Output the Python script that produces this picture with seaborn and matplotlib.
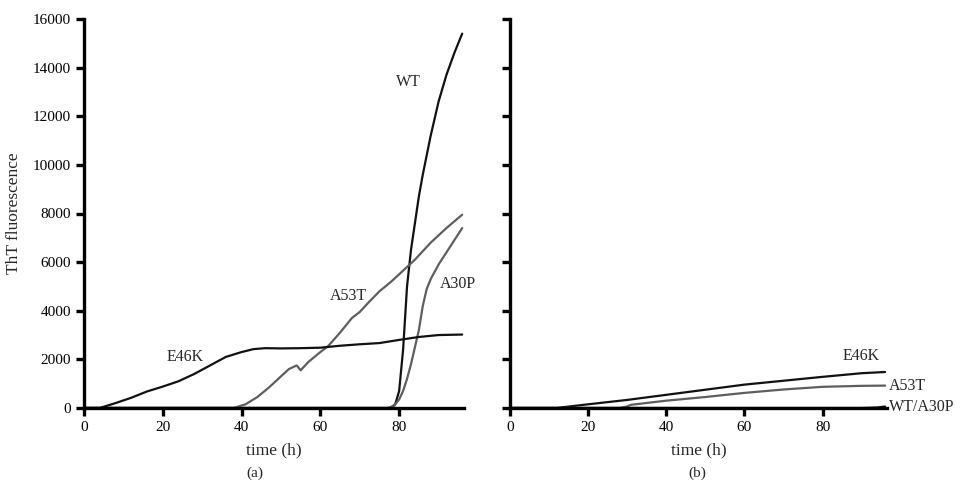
import pandas as pd
import matplotlib
matplotlib.use("Agg")
import matplotlib.pyplot as plt
import seaborn as sns

# ---- panel (a) data ----
a_wt_time = [0, 78, 79, 80, 81, 82, 83, 84, 85, 86, 88, 90, 92, 94, 96]
a_wt_val = [0, 0, 150, 700, 2400, 5000, 6500, 7600, 8700, 9600, 11200, 12600, 13700, 14600, 15400]

a_a30p_time = [0, 77, 78, 79, 80, 81, 82, 83, 84, 85, 86, 87, 88, 90, 92, 94, 96]
a_a30p_val = [0, 0, 50, 150, 350, 700, 1200, 1800, 2500, 3200, 4200, 4900, 5300, 5900, 6400, 6900, 7400]

a_a53t_time = [0, 38, 41, 44, 47, 50, 52, 54, 55, 57, 60, 62, 65, 68, 70, 72, 75, 78, 80, 84, 88, 92, 96]
a_a53t_val = [0, 0, 150, 450, 850, 1300, 1600, 1750, 1550, 1900, 2300, 2550, 3100, 3700, 3950, 4300,
              4800, 5200, 5500, 6100, 6800, 7400, 7950]

a_e46k_time = [0, 4, 8, 12, 16, 20, 24, 28, 32, 36, 40, 43, 46, 50, 55, 60, 65, 70, 75, 80, 85, 90, 96]
a_e46k_val = [0, 0, 200, 420, 680, 880, 1100, 1400, 1750, 2100, 2300, 2420, 2460, 2450, 2460, 2480,
              2560, 2620, 2670, 2800, 2920, 3000, 3020]

# ---- panel (b) data ----
b_e46k_time = [0, 12, 20, 30, 40, 50, 60, 70, 80, 90, 96]
b_e46k_val = [0, 0, 150, 330, 540, 750, 960, 1120, 1280, 1430, 1480]

b_a53t_time = [0, 28, 30, 31, 40, 50, 60, 70, 80, 90, 96]
b_a53t_val = [0, 0, 60, 130, 300, 450, 620, 760, 870, 910, 920]

b_wt_time = [0, 90, 94, 96]
b_wt_val = [0, 0, 20, 60]

x_ticks = [0, 20, 40, 60, 80]
y_ticks = [0, 2000, 4000, 6000, 8000, 10000, 12000, 14000, 16000]


def to_long(series):
    frames = []
    for name, t, v in series:
        frames.append(pd.DataFrame({"time": t, "value": v, "variant": name}))
    return pd.concat(frames, ignore_index=True)


df_a = to_long([
    ("WT", a_wt_time, a_wt_val),
    ("A30P", a_a30p_time, a_a30p_val),
    ("A53T", a_a53t_time, a_a53t_val),
    ("E46K", a_e46k_time, a_e46k_val),
])
df_b = to_long([
    ("E46K", b_e46k_time, b_e46k_val),
    ("A53T", b_a53t_time, b_a53t_val),
    ("WT/A30P", b_wt_time, b_wt_val),
])

dark = "#111111"
grey = "#5e5e5e"
palette = {"WT": dark, "E46K": dark, "WT/A30P": dark, "A30P": grey, "A53T": grey}

sns.set_style("ticks")
plt.rcParams["font.family"] = ["Liberation Serif", "DejaVu Serif"]

fig = plt.figure(figsize=(9.6, 4.88), dpi=100)
ax_a = fig.add_axes([0.0875, 0.164, 0.396, 0.797])
ax_b = fig.add_axes([0.531, 0.164, 0.393, 0.797])

for ax, df in [(ax_a, df_a), (ax_b, df_b)]:
    sns.lineplot(data=df, x="time", y="value", hue="variant", palette=palette,
                 estimator=None, sort=False, linewidth=1.6, legend=False, ax=ax)
    ax.set_xlim(0, 96.5)
    ax.set_ylim(0, 16000)
    ax.set_xticks(x_ticks)
    ax.set_yticks(y_ticks)
    sns.despine(ax=ax)
    for side in ["left", "bottom"]:
        ax.spines[side].set_linewidth(2.4)
        ax.spines[side].set_color("black")
    ax.tick_params(direction="out", length=6, width=2.4, labelsize=11, colors="black")
    ax.set_xlabel("time (h)", fontsize=12.5, labelpad=6)
    ax.set_ylabel("")

ax_a.set_ylabel("ThT fluorescence", fontsize=12.5, labelpad=8)
ax_b.set_yticklabels([])

# curve labels, panel (a)
ax_a.text(82.4, 13400, "WT", fontsize=11.5, ha="center", va="center")
ax_a.text(67.2, 4600, "A53T", fontsize=11.5, ha="center", va="center")
ax_a.text(95.0, 5100, "A30P", fontsize=11.5, ha="center", va="center")
ax_a.text(25.7, 2100, "E46K", fontsize=11.5, ha="center", va="center")

# curve labels, panel (b)
ax_b.text(89.8, 2150, "E46K", fontsize=11.5, ha="center", va="center")
ax_b.text(97.0, 900, "A53T", fontsize=11.5, ha="left", va="center")
ax_b.text(97.0, 30, "WT/A30P", fontsize=11.5, ha="left", va="center")

fig.text(0.266, 0.031, "(a)", fontsize=11, ha="center", va="center")
fig.text(0.726, 0.031, "(b)", fontsize=11, ha="center", va="center")

fig.savefig("out.png", dpi=100)
